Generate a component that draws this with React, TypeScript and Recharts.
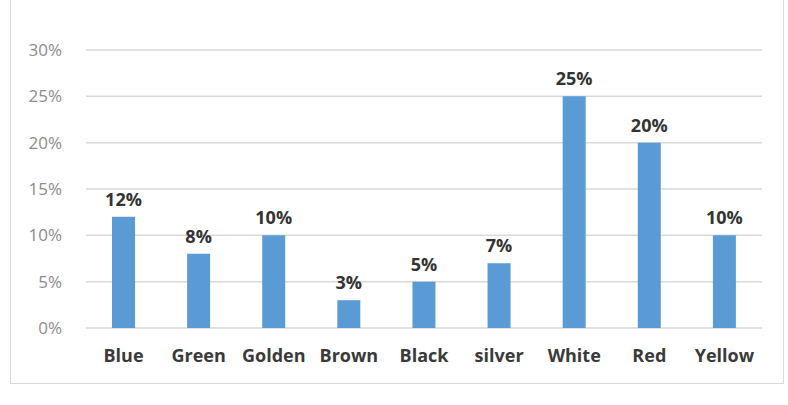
import React from 'react';
import { BarChart, Bar, XAxis, YAxis, CartesianGrid, LabelList } from 'recharts';

const colors = ['Blue', 'Green', 'Golden', 'Brown', 'Black', 'silver', 'White', 'Red', 'Yellow'];
const shares = [12, 8, 10, 3, 5, 7, 25, 20, 10];
const yTicks = [0, 5, 10, 15, 20, 25, 30];

const data = colors.map((name, i) => ({ name, value: shares[i] }));

const FONT = '"Open Sans", "Liberation Sans", sans-serif';

export default function App() {
  return (
    <div
      style={{
        position: 'absolute',
        left: 0,
        top: 0,
        width: 788,
        height: 405,
        background: '#fff',
        fontFamily: FONT,
      }}
    >
      <div
        style={{
          position: 'absolute',
          left: 10,
          top: -2,
          width: 774,
          height: 386,
          border: '1px solid #d9d9d9',
          boxSizing: 'border-box',
        }}
      />
      <BarChart
        width={788}
        height={405}
        data={data}
        margin={{ top: 50, right: 26, bottom: 47, left: 26 }}
        style={{ position: 'absolute', left: 0, top: 0 }}
      >
        <CartesianGrid vertical={false} stroke="#d9d9d9" strokeWidth={1.5} />
        <XAxis
          dataKey="name"
          axisLine={false}
          tickLine={false}
          interval={0}
          height={30}
          tickMargin={15}
          tick={{ fill: '#3a3a3a', fontSize: 18, fontWeight: 700, fontFamily: FONT }}
        />
        <YAxis
          domain={[0, 30]}
          ticks={yTicks}
          axisLine={false}
          tickLine={false}
          width={60}
          tickFormatter={(v: number) => `${v}%`}
          tick={{ fill: '#8c8c8c', fontSize: 17, fontFamily: FONT, dx: -16 }}
        />
        <Bar dataKey="value" fill="#5b9bd5" barSize={23} isAnimationActive={false}>
          <LabelList
            dataKey="value"
            position="top"
            offset={11}
            formatter={(v: number) => `${v}%`}
            style={{ fill: '#333', fontSize: 18, fontWeight: 700, fontFamily: FONT }}
          />
        </Bar>
      </BarChart>
    </div>
  );
}
